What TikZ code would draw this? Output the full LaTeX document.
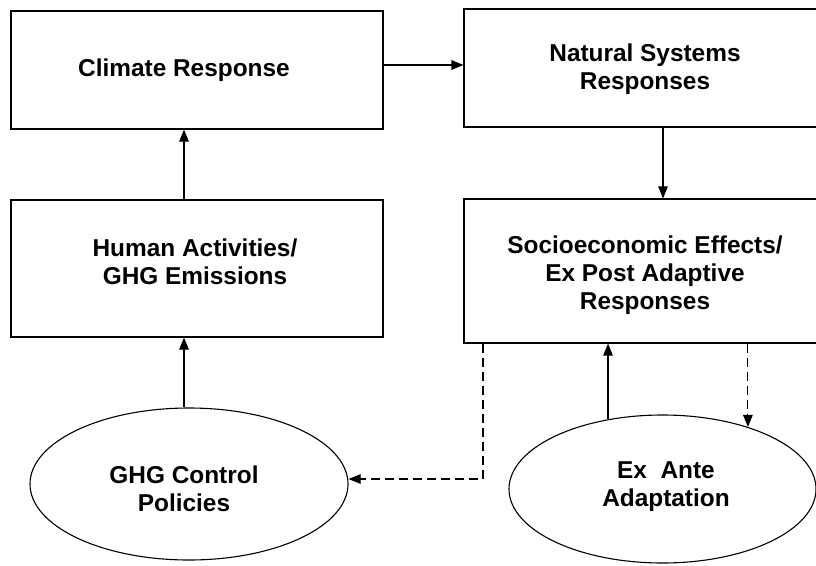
\documentclass[tikz,border=0pt]{standalone}
\usepackage{fontspec}
\setmainfont{Liberation Sans}
\usetikzlibrary{arrows.meta,shapes.geometric,calc}
\begin{document}
\begin{tikzpicture}[x=1pt,y=-1pt,
  box/.style={draw,line width=1.1pt,rectangle,inner sep=0pt},
  oval/.style={draw,line width=1.1pt,ellipse,inner sep=0pt},
  txt/.style={font=\fontsize{24.4}{28}\selectfont\bfseries,align=center,inner sep=0pt},
  arr/.style={line width=1.1pt,-{Triangle[length=12pt,width=9.5pt]}},
  darr/.style={arr,dash pattern=on 9pt off 5pt}]
\fill[white] (0,0) rectangle (816,565);
\useasboundingbox (0,0) rectangle (816,565);
% boxes
\node[box,minimum width=372pt,minimum height=118pt] (cli) at (197,70) {};
\node[txt] at (184,70) {Climate Response};
\node[box,minimum width=362pt,minimum height=118pt] (nat) at (645,68) {};
\node[txt] at (645,69) {Natural Systems\\Responses};
\node[box,minimum width=372pt,minimum height=137pt] (hum) at (197,268.5) {};
\node[txt] at (195,262) {Human Activities/\\GHG Emissions};
\node[box,minimum width=362pt,minimum height=144pt] (soc) at (645,271) {};
\node[txt] at (645,275) {Socioeconomic Effects/\\Ex Post Adaptive\\Responses};
% ellipses
\node[oval,minimum width=318pt,minimum height=152pt] (ghg) at (189,484) {};
\node[txt] at (184,489) {GHG Control\\Policies};
\node[oval,minimum width=307pt,minimum height=148pt] (ea) at (662.5,489) {};
\node[txt] at (666,487) {Ex\ \ Ante\\Adaptation};
% connectors
\draw[arr] ([yshift=5pt]cli.east) -- ([yshift=5pt]cli.east -| nat.west);
\draw[arr] ([xshift=-13pt]hum.north) -- ([xshift=-13pt]cli.south);
\draw[arr] ([xshift=-5pt]ghg.north) -- ([xshift=-5pt]ghg.north |- hum.south);
\draw[arr] ([xshift=18pt]nat.south) -- ([xshift=18pt]soc.north);
\draw[arr] (ea.128) -- (ea.128 |- soc.south);
\draw[darr] (ea.36.6 |- soc.south) -- (ea.36.6);
\draw[darr] ([xshift=-162pt]soc.south) |- ([yshift=5pt]ghg.east);
\end{tikzpicture}
\end{document}
